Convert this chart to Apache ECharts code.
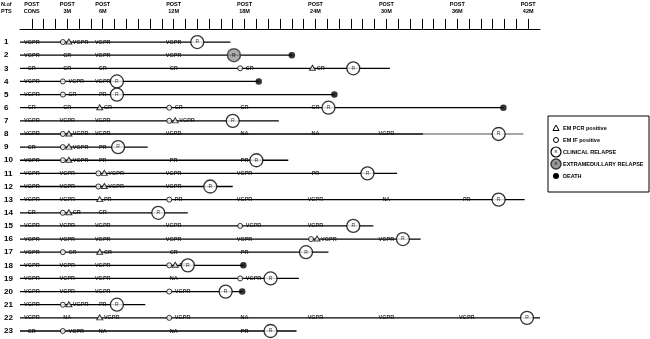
<!DOCTYPE html>
<html><head><meta charset="utf-8">
<script src="https://cdn.jsdelivr.net/npm/echarts@6/dist/echarts.min.js"></script>
<style>html,body{margin:0;padding:0;background:#fff}#c{width:650px;height:339px}</style>
</head><body><div id="c"></div>
<script>
// ---- data ----
const tickMonths = Array.from({length: 43}, (_, i) => i);
const labelMonths = [0, 3, 6, 12, 18, 24, 30, 36, 42];
const labelTexts = ['POST\nCONS', 'POST\n3M', 'POST\n6M', 'POST\n12M', 'POST\n18M', 'POST\n24M', 'POST\n30M', 'POST\n36M', 'POST\n42M'];
const patients = [1,2,3,4,5,6,7,8,9,10,11,12,13,14,15,16,17,18,19,20,21,22,23];
const followUpEnd = [16.8, 22, 30.3, 19.2, 25.6, 39.9, 20.9, 41.6, 9.8, 21.7, 30.9, 17, 41.7, 13.2, 28.9, 32.9, 25.1, 17.9, 22.6, 17.8, 9.6, 43, 22.4];
const greyFrom = [[8, 33.1]];
const clinicalRelapse = [[1,14],[3,27.2],[4,7.2],[5,7.2],[6,25.1],[7,17],[8,39.5],[9,7.3],[10,19],[11,28.4],[12,15.1],[13,39.5],[14,10.7],[15,27.2],[16,31.4],[17,23.2],[18,13.2],[19,20.2],[20,16.4],[21,7.2],[22,41.9],[23,20.2]];
const extramedullaryRelapse = [[2,17.1]];
const deaths = [[2,22],[4,19.2],[5,25.6],[6,39.9],[18,17.9],[20,17.8]];
// per patient: [month, response, markers] ; c = EM IF positive, t = EM PCR positive
const assessments = [
  [[0,'VGPR'],[3,'VGPR','ct'],[6,'VGPR'],[12,'VGPR']],
  [[0,'VGPR'],[3,'CR'],[6,'VGPR'],[12,'VGPR']],
  [[0,'CR'],[3,'CR'],[6,'CR'],[12,'CR'],[18,'CR','c'],[24,'CR','t']],
  [[0,'VGPR'],[3,'VGPR','c'],[6,'VGPR']],
  [[0,'VGPR'],[3,'CR','c'],[6,'PR']],
  [[0,'CR'],[3,'CR'],[6,'CR','t'],[12,'CR','c'],[18,'CR'],[24,'CR']],
  [[0,'VGPR'],[3,'VGPR'],[6,'VGPR'],[12,'VGPR','ct']],
  [[0,'VGPR'],[3,'VGPR','ct'],[6,'VGPR'],[12,'VGPR'],[18,'NA'],[24,'NA'],[30,'VGPR']],
  [[0,'CR'],[3,'VGPR','ct'],[6,'PR']],
  [[0,'VGPR'],[3,'VGPR','ct'],[6,'PR'],[12,'PR'],[18,'PR']],
  [[0,'VGPR'],[3,'VGPR'],[6,'VGPR','ct'],[12,'VGPR'],[18,'VGPR'],[24,'PR']],
  [[0,'VGPR'],[3,'VGPR'],[6,'VGPR','ct'],[12,'VGPR']],
  [[0,'VGPR'],[3,'VGPR'],[6,'PR','t'],[12,'PR','c'],[18,'VGPR'],[24,'VGPR'],[30,'NA'],[36.8,'PR']],
  [[0,'CR'],[3,'CR','ct'],[6,'CR']],
  [[0,'VGPR'],[3,'VGPR'],[6,'VGPR'],[12,'VGPR'],[18,'VGPR','c'],[24,'VGPR']],
  [[0,'VGPR'],[3,'VGPR'],[6,'VGPR'],[12,'VGPR'],[18,'VGPR'],[24,'VGPR','ct'],[30,'VGPR']],
  [[0,'VGPR'],[3,'CR','c'],[6,'CR','t'],[12,'CR'],[18,'PR']],
  [[0,'VGPR'],[3,'VGPR'],[6,'VGPR'],[12,'PR','ct']],
  [[0,'VGPR'],[3,'VGPR'],[6,'VGPR'],[12,'NA'],[18,'VGPR','c']],
  [[0,'VGPR'],[3,'VGPR'],[6,'VGPR'],[12,'VGPR','c']],
  [[0,'VGPR'],[3,'VGPR','ct'],[6,'PR']],
  [[0,'VGPR'],[3,'NA'],[6,'VGPR','t'],[12,'VGPR','c'],[18,'NA'],[24,'VGPR'],[30,'VGPR'],[36.8,'VGPR']],
  [[0,'CR'],[3,'VGPR','c'],[6,'NA'],[12,'NA'],[18,'PR']]
];

// ---- build ----
const FONT = '"Liberation Sans Narrow","Liberation Sans",Arial,sans-serif';
const series = [];
patients.forEach((p, i) => {
  const g = greyFrom.find(d => d[0] === p);
  const blackEnd = g ? g[1] : followUpEnd[i];
  series.push({type: 'line', data: [[-1, p], [blackEnd, p]], symbol: 'none', silent: true, z: 2,
    lineStyle: {color: '#000', width: 1.3}});
  if (g) series.push({type: 'line', data: [[g[1], p], [followUpEnd[i], p]], symbol: 'none', silent: true, z: 2,
    lineStyle: {color: '#8a8a8a', width: 1.3}});
});
const textData = [], circData = [], triData = [];
patients.forEach((p, i) => {
  assessments[i].forEach(a => {
    const [m, txt, f] = a;
    if (!f) {
      textData.push({value: [m, p], label: {formatter: txt, align: 'center', offset: [0, 0]}});
    } else {
      const both = f === 'ct';
      if (f.includes('c')) circData.push({value: [m, p], symbolOffset: [-4.4, 0]});
      if (f.includes('t')) triData.push({value: [m, p], symbolOffset: [both ? 1.6 : -3, -0.5]});
      textData.push({value: [m, p], label: {formatter: txt, align: 'left', offset: [both ? 5.6 : 1.2, 0]}});
    }
  });
});
series.push({type: 'scatter', data: textData, symbolSize: 0, z: 4, silent: true,
  label: {show: true, position: 'inside', color: '#000', fontSize: 5.5, fontWeight: 'bold', fontFamily: FONT, verticalAlign: 'middle'}});
series.push({type: 'scatter', data: circData, symbol: 'circle', symbolSize: 5, z: 5, silent: true,
  itemStyle: {color: '#fff', borderColor: '#000', borderWidth: 1}});
series.push({type: 'scatter', data: triData, symbol: 'triangle', symbolSize: [6, 5], z: 5, silent: true,
  itemStyle: {color: '#fff', borderColor: '#000', borderWidth: 1}});
series.push({type: 'scatter', data: deaths.map(d => [d[1], d[0]]), symbol: 'circle', symbolSize: 6.5, z: 5, silent: true,
  itemStyle: {color: '#000'}});
series.push({type: 'scatter', data: clinicalRelapse.map(d => [d[1], d[0]]), symbol: 'circle', symbolSize: 13, z: 6, silent: true,
  itemStyle: {color: '#fff', borderColor: '#000', borderWidth: 1.3},
  label: {show: true, position: 'inside', formatter: 'R', fontSize: 5, color: '#000', fontFamily: FONT}});
series.push({type: 'scatter', data: extramedullaryRelapse.map(d => [d[1], d[0]]), symbol: 'circle', symbolSize: 13, z: 6, silent: true,
  itemStyle: {color: '#999', borderColor: '#333', borderWidth: 1.5},
  label: {show: true, position: 'inside', formatter: 'R', fontSize: 5, color: '#000', fontFamily: FONT}});

const xBase = {type: 'value', min: -1, max: 43, position: 'top', offset: 10, splitLine: {show: false}};
const option = {
  animation: false,
  backgroundColor: '#fff',
  grid: {left: 20, width: 520, top: 28.9, height: 308.66},
  xAxis: [
    Object.assign({}, xBase, {
      axisLine: {show: true, lineStyle: {color: '#000', width: 1}},
      axisTick: {show: true, customValues: tickMonths, length: 5, inside: false, lineStyle: {color: '#000', width: 1}},
      axisLabel: {show: true, customValues: labelMonths, margin: 4, fontSize: 5.5, fontWeight: 'bold', fontFamily: FONT, color: '#000', lineHeight: 7,
        formatter: v => labelTexts[labelMonths.indexOf(v)] || ''}
    }),
    Object.assign({}, xBase, {
      axisLine: {show: false},
      axisTick: {show: true, customValues: tickMonths, length: 6, inside: true, lineStyle: {color: '#000', width: 1}},
      axisLabel: {show: false}
    })
  ],
  yAxis: {type: 'value', inverse: true, min: 0, max: 23.5, axisLine: {show: false}, axisTick: {show: false}, splitLine: {show: false},
    axisLabel: {show: true, customValues: patients, align: 'left', margin: 16, fontSize: 8, fontWeight: 'bold', fontFamily: '"Liberation Sans",Arial,sans-serif', color: '#000'}},
  graphic: [
    {type: 'text', left: 1, top: 1, style: {text: 'N.of\nPTS', fontSize: 5.5, fontWeight: 'bold', fontFamily: FONT, fill: '#000', align: 'center', lineHeight: 7}, x: 0},
    {type: 'rect', shape: {x: 548, y: 116, width: 101, height: 76}, style: {fill: '#fff', stroke: '#000', lineWidth: 1}, z: 10},
    {type: 'polygon', shape: {points: [[556, 125], [553, 130.5], [559, 130.5]]}, style: {fill: '#fff', stroke: '#000', lineWidth: 1}, z: 11},
    {type: 'circle', shape: {cx: 556, cy: 140, r: 2.5}, style: {fill: '#fff', stroke: '#000', lineWidth: 1}, z: 11},
    {type: 'circle', shape: {cx: 556, cy: 152, r: 5}, style: {fill: '#fff', stroke: '#000', lineWidth: 1.2}, z: 11},
    {type: 'text', x: 556, y: 152, style: {text: 'R', fontSize: 4, fontFamily: FONT, fill: '#000', align: 'center', verticalAlign: 'middle'}, z: 12},
    {type: 'circle', shape: {cx: 556, cy: 164, r: 5}, style: {fill: '#999', stroke: '#333', lineWidth: 1.4}, z: 11},
    {type: 'text', x: 556, y: 164, style: {text: 'R', fontSize: 4, fontFamily: FONT, fill: '#000', align: 'center', verticalAlign: 'middle'}, z: 12},
    {type: 'circle', shape: {cx: 556, cy: 176, r: 3}, style: {fill: '#000'}, z: 11},
    {type: 'text', x: 563, y: 128, style: {text: 'EM PCR positive', fontSize: 5.5, fontWeight: 'bold', fontFamily: FONT, fill: '#000', verticalAlign: 'middle'}, z: 12},
    {type: 'text', x: 563, y: 140, style: {text: 'EM IF positive', fontSize: 5.5, fontWeight: 'bold', fontFamily: FONT, fill: '#000', verticalAlign: 'middle'}, z: 12},
    {type: 'text', x: 563, y: 152, style: {text: 'CLINICAL RELAPSE', fontSize: 5.5, fontWeight: 'bold', fontFamily: FONT, fill: '#000', verticalAlign: 'middle'}, z: 12},
    {type: 'text', x: 563, y: 164, style: {text: 'EXTRAMEDULLARY RELAPSE', fontSize: 5.5, fontWeight: 'bold', fontFamily: FONT, fill: '#000', verticalAlign: 'middle'}, z: 12},
    {type: 'text', x: 563, y: 176, style: {text: 'DEATH', fontSize: 5.5, fontWeight: 'bold', fontFamily: FONT, fill: '#000', verticalAlign: 'middle'}, z: 12}
  ],
  series: series
};
const chart = echarts.init(document.getElementById('c'), null, {renderer: 'canvas'});
chart.setOption(option);
</script></body></html>
